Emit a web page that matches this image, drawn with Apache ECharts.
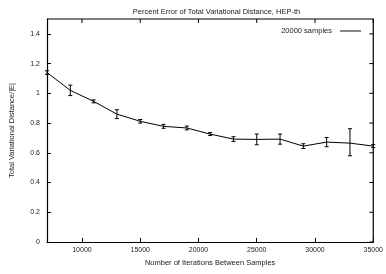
<!DOCTYPE html>
<html>
<head>
    <meta charset="UTF-8">
    <title></title>
    <script type="text/javascript" src="https://cdn.jsdelivr.net/npm/echarts@6/dist/echarts.min.js"></script>
</head>
<body style="margin:0;background:#fff">
<div id="chart" style="width: 386px;height:274px;"></div>
<script>
    // data
    var iterations = [7000, 9000, 11000, 13000, 15000, 17000, 19000, 21000, 23000, 25000, 27000, 29000, 31000, 33000, 35000];
    var distance = [1.14, 1.02, 0.946, 0.86, 0.812, 0.778, 0.767, 0.726, 0.692, 0.69, 0.692, 0.645, 0.672, 0.665, 0.645];
    var errLow = [1.128, 0.985, 0.936, 0.83, 0.800, 0.765, 0.754, 0.716, 0.676, 0.654, 0.658, 0.629, 0.641, 0.58, 0.635];
    var errHigh = [1.152, 1.055, 0.956, 0.89, 0.824, 0.791, 0.780, 0.736, 0.708, 0.726, 0.726, 0.661, 0.703, 0.762, 0.655];
    var xTicks = [10000, 15000, 20000, 25000, 30000, 35000];
    var yTicks = [0, 0.2, 0.4, 0.6, 0.8, 1, 1.2, 1.4];
    var xRange = [7000, 35000];
    var yRange = [0, 1.5];

    var font = 'Liberation Sans';
    var lineData = [];
    var barData = [];
    for (var i = 0; i < iterations.length; i++) {
        lineData.push([iterations[i], distance[i]]);
        barData.push([iterations[i], errLow[i], errHigh[i]]);
    }
    // gnuplot style mirror ticks on top and right
    var topTicks = xTicks.map(function (v) { return [v, yRange[1]]; });
    var rightTicks = yTicks.map(function (v) { return [xRange[1], v]; });

    function yLabel(v) {
        return String(Math.round(v * 10) / 10);
    }

    function xLabel(v) {
        return String(v);
    }

    var st = {stroke: '#000', lineWidth: 1};

    var myChart = echarts.init(document.getElementById('chart'));
    myChart.setOption({
        animation: false,
        title: {
            text: 'Percent Error of Total Variational Distance, HEP-th',
            left: 211.5,
            textAlign: 'center',
            top: 3,
            textStyle: {fontFamily: font, fontSize: 7.5, fontWeight: 'normal', color: '#222'}
        },
        legend: {
            top: 22,
            right: 20,
            align: 'right',
            itemWidth: 21,
            itemHeight: 1,
            itemGap: 0,
            data: [{name: '20000 samples', icon: 'path://M0,0L22,0L22,1L0,1Z'}],
            itemStyle: {color: '#000'},
            textStyle: {fontFamily: font, fontSize: 7.5, color: '#222', padding: [0, 3, 0, 0]}
        },
        grid: {left: 47, right: 10, top: 19, bottom: 32},
        xAxis: {
            type: 'value',
            min: xRange[0],
            max: xRange[1],
            name: 'Number of Iterations Between Samples',
            nameLocation: 'middle',
            nameGap: 15,
            nameTextStyle: {fontFamily: font, fontSize: 7.5, color: '#222'},
            axisLine: {onZero: false, lineStyle: {color: '#000', width: 1.2}},
            axisTick: {inside: true, length: 4, customValues: xTicks, lineStyle: {color: '#000'}},
            axisLabel: {customValues: xTicks, margin: 5, fontFamily: font, fontSize: 7, color: '#222', formatter: xLabel},
            splitLine: {show: false}
        },
        yAxis: {
            type: 'value',
            min: yRange[0],
            max: yRange[1],
            name: 'Total Variational Distance/|E|',
            nameLocation: 'middle',
            nameGap: 31,
            nameTextStyle: {fontFamily: font, fontSize: 7.5, color: '#222'},
            axisLine: {onZero: false, lineStyle: {color: '#000', width: 1.2}},
            axisTick: {inside: true, length: 4, customValues: yTicks, lineStyle: {color: '#000'}},
            axisLabel: {customValues: yTicks, margin: 7, fontFamily: font, fontSize: 7, color: '#222', formatter: yLabel},
            splitLine: {show: false}
        },
        series: [{
            name: '20000 samples',
            type: 'line',
            data: lineData,
            symbol: 'none',
            lineStyle: {color: '#000', width: 1},
            itemStyle: {color: '#000'}
        }, {
            name: 'errors',
            type: 'custom',
            data: barData,
            clip: false,
            renderItem: function (params, api) {
                var x = api.value(0);
                var lo = api.coord([x, api.value(1)]);
                var hi = api.coord([x, api.value(2)]);
                return {
                    type: 'group',
                    children: [
                        {type: 'line', shape: {x1: lo[0], y1: lo[1], x2: hi[0], y2: hi[1]}, style: st},
                        {type: 'line', shape: {x1: lo[0] - 2, y1: lo[1], x2: lo[0] + 2, y2: lo[1]}, style: st},
                        {type: 'line', shape: {x1: hi[0] - 2, y1: hi[1], x2: hi[0] + 2, y2: hi[1]}, style: st}
                    ]
                };
            }
        }, {
            name: 'frame',
            type: 'custom',
            data: [[xRange[0], yRange[1]]],
            clip: false,
            silent: true,
            renderItem: function (params, api) {
                var tl = api.coord([xRange[0], yRange[1]]);
                var tr = api.coord([xRange[1], yRange[1]]);
                var br = api.coord([xRange[1], yRange[0]]);
                return {
                    type: 'polyline',
                    shape: {points: [tl, tr, br]},
                    style: {stroke: '#000', lineWidth: 1.2, fill: null}
                };
            }
        }, {
            name: 'topTicks',
            type: 'custom',
            data: topTicks,
            clip: false,
            silent: true,
            renderItem: function (params, api) {
                var p = api.coord([api.value(0), api.value(1)]);
                return {type: 'line', shape: {x1: p[0], y1: p[1], x2: p[0], y2: p[1] + 4}, style: st};
            }
        }, {
            name: 'rightTicks',
            type: 'custom',
            data: rightTicks,
            clip: false,
            silent: true,
            renderItem: function (params, api) {
                var p = api.coord([api.value(0), api.value(1)]);
                return {type: 'line', shape: {x1: p[0], y1: p[1], x2: p[0] - 4, y2: p[1]}, style: st};
            }
        }]
    });
</script>
</body>
</html>
